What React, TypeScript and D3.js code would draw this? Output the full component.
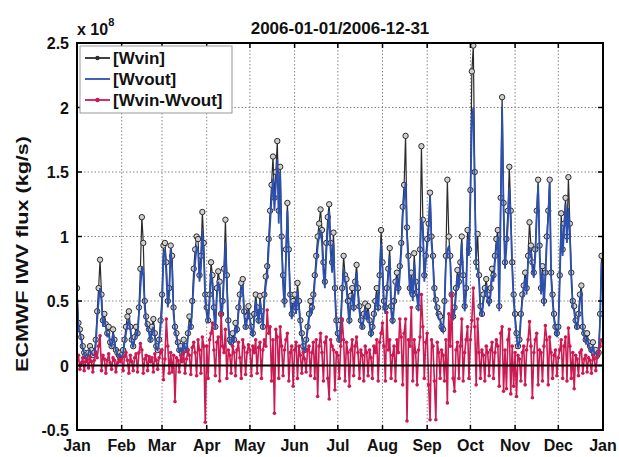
import React from 'react'
import * as d3 from 'd3'

// daily values, units of 1e8 kg/s, one array per month
const wvinByMonth: number[][] = [
  [0.6,0.33,0.28,0.22,0.15,0.1,0.08,0.06,0.1,0.15,0.12,0.08,0.1,0.2,0.42,0.6,0.82,0.55,0.35,0.4,0.32,0.25,0.3,0.18,0.15,0.28,0.2,0.12,0.1,0.08,0.1],
  [0.08,0.12,0.2,0.3,0.38,0.42,0.3,0.2,0.15,0.22,0.3,0.25,0.45,0.75,1.15,0.95,0.5,0.38,0.32,0.28,0.2,0.3,0.36,0.25,0.15,0.12,0.2,0.35],
  [0.55,0.93,0.95,0.8,0.5,0.6,0.93,0.85,0.45,0.3,0.25,0.18,0.12,0.15,0.1,0.2,0.15,0.12,0.25,0.38,0.3,0.5,0.75,0.9,1.0,0.98,0.7,0.85,1.19,0.95,0.55],
  [0.45,0.35,0.55,0.8,0.7,0.45,0.3,0.6,0.73,0.65,0.4,0.5,0.75,1.13,0.7,0.35,0.2,0.18,0.25,0.2,0.33,0.28,0.45,0.55,0.64,0.67,0.42,0.3,0.38,0.46],
  [0.38,0.3,0.25,0.4,0.55,0.45,0.35,0.54,0.42,0.3,0.55,0.69,0.77,0.98,1.2,1.4,1.62,1.3,1.5,1.74,1.2,1.54,1.0,0.7,0.5,0.9,1.26,0.9,0.55,0.4,0.5],
  [0.55,0.45,0.64,0.5,0.35,0.25,0.15,0.12,0.2,0.3,0.4,0.5,0.45,0.55,0.7,0.85,1.0,1.1,1.21,1.05,0.8,0.65,0.95,1.15,1.25,0.95,0.8,1.03,0.6,0.35],
  [0.25,0.2,0.35,0.6,0.85,0.7,0.67,0.5,0.35,0.54,0.6,0.45,0.65,0.78,0.6,0.46,0.35,0.3,0.4,0.48,0.38,0.46,0.35,0.25,0.3,0.4,0.5,0.6,0.45,0.7,1.05],
  [0.8,0.5,0.45,0.6,0.75,0.91,0.46,0.35,0.5,0.65,0.72,0.6,0.77,0.95,1.23,1.4,1.78,1.07,0.85,0.6,0.72,0.55,0.87,0.65,0.57,0.45,0.9,1.7,1.13,0.7,0.85],
  [0.98,1.1,1.34,1.0,0.85,0.6,0.51,0.45,0.4,0.38,0.3,0.28,0.5,0.85,1.44,1.0,0.85,0.55,0.38,0.45,0.6,0.74,0.65,0.8,1.0,0.7,0.46,0.6,1.05,0.9],
  [1.36,2.28,2.48,1.5,0.8,1.02,0.7,0.46,0.4,0.55,0.6,0.67,0.55,0.5,0.6,0.75,0.7,0.85,0.98,1.05,0.46,1.3,2.08,1.26,0.8,0.98,1.2,1.54,1.2,0.8,0.55],
  [0.4,0.25,0.15,0.2,0.4,0.55,0.62,0.72,0.6,0.85,1.11,0.93,0.8,0.72,0.9,1.2,1.44,0.93,0.6,0.77,0.5,0.72,1.0,1.2,1.44,0.72,0.55,0.4,0.3,0.25],
  [0.3,0.7,1.18,0.9,1.1,1.3,1.0,1.46,1.1,0.72,0.5,0.46,0.35,0.3,0.4,0.55,0.62,0.3,0.25,0.2,0.25,0.18,0.15,0.12,0.18,0.1,0.12,0.08,0.1,0.4,0.85],
]

const wvoutByMonth: number[][] = [
  [0.55,0.3,0.25,0.2,0.12,0.1,0.06,0.05,0.1,0.12,0.1,0.08,0.08,0.15,0.35,0.5,0.6,0.5,0.3,0.36,0.3,0.22,0.25,0.17,0.14,0.25,0.18,0.12,0.08,0.07,0.08],
  [0.06,0.1,0.18,0.25,0.32,0.36,0.28,0.18,0.14,0.2,0.25,0.24,0.4,0.6,0.77,0.7,0.45,0.33,0.3,0.25,0.18,0.27,0.3,0.22,0.13,0.12,0.18,0.3],
  [0.45,0.85,0.9,0.7,0.45,0.55,0.9,0.75,0.4,0.28,0.22,0.16,0.1,0.14,0.08,0.18,0.14,0.1,0.22,0.32,0.28,0.45,0.65,0.8,0.92,0.9,0.65,0.75,1.05,0.85,0.5],
  [0.4,0.33,0.5,0.72,0.62,0.4,0.28,0.52,0.65,0.6,0.36,0.45,0.68,0.95,0.62,0.3,0.18,0.16,0.22,0.18,0.3,0.25,0.4,0.5,0.6,0.62,0.4,0.28,0.35,0.42],
  [0.35,0.28,0.22,0.36,0.5,0.42,0.32,0.5,0.4,0.28,0.5,0.62,0.7,0.9,1.1,1.3,1.45,1.2,1.4,1.6,1.1,1.5,0.92,0.62,0.45,0.82,1.2,0.82,0.5,0.36,0.45],
  [0.5,0.4,0.58,0.45,0.32,0.22,0.14,0.1,0.18,0.27,0.36,0.45,0.4,0.5,0.65,0.78,0.92,1.0,1.05,0.95,0.72,0.6,0.88,1.05,1.2,0.88,0.72,0.95,0.55,0.32],
  [0.22,0.18,0.32,0.55,0.75,0.65,0.6,0.45,0.32,0.5,0.55,0.42,0.6,0.72,0.55,0.42,0.32,0.28,0.36,0.44,0.35,0.42,0.32,0.22,0.28,0.36,0.45,0.55,0.42,0.65,0.95],
  [0.72,0.45,0.4,0.55,0.7,0.85,0.42,0.32,0.45,0.6,0.68,0.55,0.7,0.88,1.15,1.3,1.42,1.0,0.8,0.55,0.68,0.5,0.8,0.6,0.52,0.42,0.85,1.15,1.05,0.65,0.8],
  [0.92,1.05,1.32,0.95,0.8,0.55,0.48,0.42,0.36,0.35,0.28,0.26,0.45,0.8,0.9,0.92,0.8,0.5,0.35,0.42,0.55,0.7,0.6,0.75,0.95,0.65,0.42,0.55,0.98,0.85],
  [1.3,1.9,2.0,1.35,0.75,0.75,0.65,0.42,0.38,0.5,0.55,0.62,0.5,0.46,0.55,0.7,0.65,0.8,0.92,1.0,0.42,1.2,2.0,1.2,0.75,0.92,1.1,1.38,1.12,0.75,0.5],
  [0.36,0.22,0.14,0.18,0.36,0.5,0.58,0.68,0.55,0.8,0.9,0.88,0.75,0.68,0.85,1.15,1.4,0.88,0.55,0.72,0.46,0.68,0.95,1.15,1.42,0.68,0.5,0.36,0.28,0.22],
  [0.28,0.65,1.1,0.85,1.05,1.25,0.95,1.22,1.02,0.68,0.46,0.42,0.32,0.28,0.36,0.5,0.58,0.28,0.22,0.18,0.22,0.16,0.13,0.1,0.16,0.09,0.1,0.07,0.09,0.36,0.8],
]

const diffByMonth: number[][] = [
  [0.04,0.08,-0.03,0.02,0.06,-0.04,0.03,0.05,-0.02,0.07,0.03,-0.05,0.04,0.1,0.06,0.15,0.23,-0.04,0.08,0.05,-0.06,0.04,0.09,0.02,-0.03,0.06,0.04,-0.05,0.02,0.05,0.03],
  [0.05,-0.04,0.07,0.1,0.04,-0.06,0.08,0.03,-0.04,0.06,0.09,-0.05,0.1,0.17,0.12,-0.06,0.05,0.08,-0.04,0.07,0.03,0.06,-0.05,0.09,0.04,-0.03,0.06,0.1],
  [0.12,-0.11,0.05,0.36,0.15,-0.06,0.1,-0.05,0.08,-0.28,0.06,0.04,-0.05,0.08,0.03,0.1,-0.06,0.05,0.12,0.08,-0.07,0.14,0.18,0.1,-0.08,0.2,0.12,-0.06,0.22,0.15,-0.44],
  [0.15,-0.1,0.2,0.25,0.33,0.12,-0.08,0.18,0.22,-0.12,0.4,0.15,0.1,0.28,-0.1,0.12,0.08,-0.06,0.15,0.1,-0.08,0.12,0.18,0.06,-0.1,0.2,0.14,-0.07,0.1,0.16],
  [0.12,-0.08,0.15,0.1,0.2,-0.06,0.14,0.18,-0.1,0.12,0.2,0.15,0.43,0.25,0.3,-0.12,0.2,-0.37,0.28,0.22,-0.1,0.3,0.15,-0.08,0.12,0.2,0.25,-0.12,0.1,0.15,-0.16],
  [0.12,0.18,-0.1,0.15,0.08,-0.06,0.1,0.05,-0.05,0.12,0.15,-0.08,0.1,0.18,-0.1,0.2,-0.24,0.15,0.25,0.1,-0.12,0.18,0.22,-0.1,-0.26,0.2,0.15,0.12,-0.19,0.1],
  [0.08,-0.1,0.15,0.36,0.2,-0.12,0.18,0.1,-0.16,0.12,0.2,-0.08,0.15,0.22,0.1,-0.1,0.12,0.08,-0.12,0.15,0.1,-0.08,0.12,0.06,-0.1,0.15,0.1,0.2,-0.12,0.18,0.25],
  [0.33,0.15,-0.12,0.41,0.12,0.2,-0.1,0.08,0.15,-0.12,0.2,0.1,0.36,0.22,-0.15,0.25,0.36,-0.43,0.2,0.15,0.45,-0.12,0.2,0.1,-0.15,0.12,0.22,0.55,0.3,-0.1,0.18],
  [0.25,-0.15,-0.42,0.2,0.15,-0.12,-0.42,0.18,0.1,-0.1,0.12,0.08,-0.12,0.2,-0.29,0.4,0.15,0.55,-0.1,-0.2,0.12,0.18,-0.1,0.15,0.36,-0.12,0.1,0.2,0.3,-0.1],
  [0.2,0.35,0.6,0.3,-0.15,0.36,0.1,-0.1,0.12,0.08,-0.12,0.15,0.1,-0.08,0.12,0.18,-0.1,0.1,0.2,0.15,-0.16,0.25,0.3,-0.2,0.12,-0.18,0.2,0.28,-0.22,0.15,-0.16],
  [0.1,-0.24,0.08,0.05,-0.12,0.1,0.15,-0.15,0.12,0.2,0.34,0.15,-0.25,0.1,0.2,0.25,-0.15,0.12,0.1,-0.12,0.15,0.31,0.2,-0.15,0.22,0.1,-0.1,0.08,0.12,-0.08],
  [0.06,0.12,0.2,-0.1,0.15,0.22,-0.12,0.29,0.15,-0.1,0.1,-0.18,0.08,0.05,-0.08,0.1,0.12,-0.06,0.05,0.08,-0.05,0.06,0.04,-0.06,0.08,0.05,-0.04,0.06,0.1,0.15,0.2],
]

const yTicks = [-0.5, 0, 0.5, 1, 1.5, 2, 2.5]
const yTickLabels = ['-0.5', '0', '0.5', '1', '1.5', '2', '2.5']
const seriesNames = ['[Wvin]', '[Wvout]', '[Wvin-Wvout]']
const title = '2006-01-01/2006-12-31'

type Pt = { date: Date; v: number }
const toSeries = (byMonth: number[][]): Pt[] =>
  byMonth.flatMap((vals, m) => vals.map((v, i) => ({ date: new Date(2006, m, i + 1), v })))

const W = 619
const H = 457
const left = 77
const right = 603
const top = 43
const bottom = 430
const font = 'Liberation Sans, Arial, Helvetica, sans-serif'

const BLACK = '#2b2b2b'
const BLUE = '#2c50b0'
const RED = '#cc1a52'

export default function App() {
  const wvin = toSeries(wvinByMonth)
  const wvout = toSeries(wvoutByMonth)
  const diff = toSeries(diffByMonth)

  const x = d3.scaleTime().domain([new Date(2006, 0, 1), new Date(2007, 0, 1)]).range([left, right])
  const y = d3.scaleLinear().domain([-0.5, 2.5]).range([bottom, top])
  const monthTicks = d3.timeMonth.range(new Date(2006, 0, 1), new Date(2007, 0, 2))

  const line = d3
    .line<Pt>()
    .x((d) => x(d.date))
    .y((d) => y(d.v))

  return (
    <svg width={W} height={H} style={{ position: 'absolute', left: 0, top: 0, background: '#fff' }} fontFamily={font}>
      <defs>
        <clipPath id="plot">
          <rect x={left} y={top} width={right - left} height={bottom - top} />
        </clipPath>
      </defs>

      {/* grid */}
      <g stroke="#888" strokeWidth={1} strokeDasharray="1.5,2">
        {monthTicks.slice(1, -1).map((d, i) => (
          <line key={'gx' + i} x1={x(d)} x2={x(d)} y1={top} y2={bottom} />
        ))}
        {yTicks.slice(1, -1).map((t) => (
          <line key={'gy' + t} x1={left} x2={right} y1={y(t)} y2={y(t)} />
        ))}
      </g>

      <g clipPath="url(#plot)">
        <path d={line(wvin) || ''} fill="none" stroke={BLACK} strokeWidth={1.2} />
        {wvin.map((d, i) => (
          <circle key={'a' + i} cx={x(d.date)} cy={y(d.v)} r={2.7} fill="#cfcfcf" stroke={BLACK} strokeWidth={1} />
        ))}
        <path d={line(wvout) || ''} fill="none" stroke={BLUE} strokeWidth={1.8} />
        <path d={line(diff) || ''} fill="none" stroke={RED} strokeWidth={1.6} />
        {diff.map((d, i) => (
          <circle key={'c' + i} cx={x(d.date)} cy={y(d.v)} r={1.8} fill={RED} />
        ))}
        <line x1={left} x2={right} y1={y(0)} y2={y(0)} stroke="#000" strokeWidth={2} />
      </g>

      {/* ticks */}
      <g stroke="#000" strokeWidth={1.5}>
        {monthTicks.map((d, i) => (
          <g key={'tx' + i}>
            <line x1={x(d)} x2={x(d)} y1={bottom} y2={bottom - 5} />
            <line x1={x(d)} x2={x(d)} y1={top} y2={top + 5} />
          </g>
        ))}
        {yTicks.map((t) => (
          <g key={'ty' + t}>
            <line x1={left} x2={left + 5} y1={y(t)} y2={y(t)} />
            <line x1={right} x2={right - 5} y1={y(t)} y2={y(t)} />
          </g>
        ))}
      </g>
      <rect x={left} y={top} width={right - left} height={bottom - top} fill="none" stroke="#000" strokeWidth={2} />

      {/* tick labels */}
      <g fontSize={16} fontWeight="bold" fill="#111">
        {monthTicks.map((d, i) => (
          <text key={'lx' + i} x={x(d)} y={bottom + 21} textAnchor="middle">
            {d3.timeFormat('%b')(d)}
          </text>
        ))}
        {yTicks.map((t, i) => (
          <text key={'ly' + t} x={left - 8} y={y(t) + 6} textAnchor="end">
            {yTickLabels[i]}
          </text>
        ))}
      </g>

      <text x={77} y={35} fontSize={16} fontWeight="bold" fill="#111">
        x 10
        <tspan dy={-9} fontSize={11}>8</tspan>
      </text>
      <text x={(left + right) / 2} y={34} fontSize={17} fontWeight="bold" textAnchor="middle" fill="#111">
        {title}
      </text>
      <text
        transform="translate(28, 254) rotate(-90)"
        fontSize={17}
        fontWeight="bold"
        textAnchor="middle"
        fill="#111"
        textLength={236}
        lengthAdjust="spacingAndGlyphs"
      >
        ECMWF IWV flux (kg/s)
      </text>

      {/* legend */}
      <g>
        <rect x={80} y={46} width={152} height={67} fill="#fff" stroke="#999" strokeWidth={1} />
        {seriesNames.map((name, i) => {
          const ly = 58 + i * 21
          const col = [BLACK, BLUE, RED][i]
          return (
            <g key={name}>
              <line x1={85} x2={110} y1={ly} y2={ly} stroke={col} strokeWidth={1.8} />
              {i !== 1 && <circle cx={97.5} cy={ly} r={2.2} fill={col} />}
              <text x={113} y={ly + 6} fontSize={17} fontWeight="bold" fill="#111">
                {name}
              </text>
            </g>
          )
        })}
      </g>
    </svg>
  )
}
